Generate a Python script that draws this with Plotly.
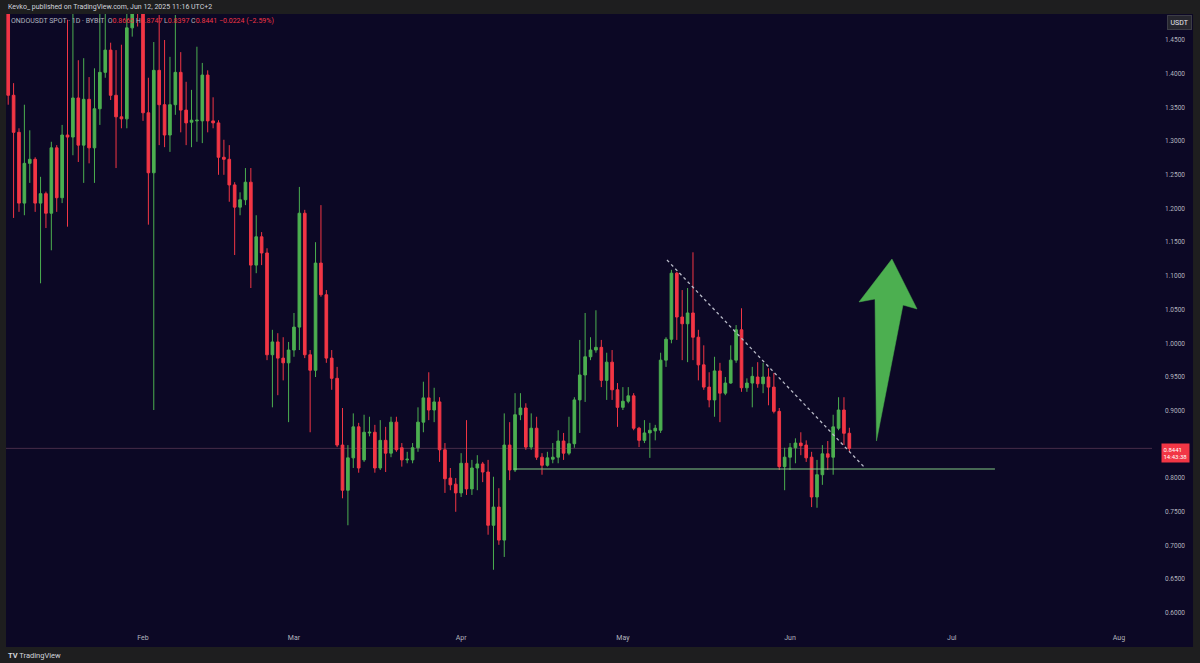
import plotly.graph_objects as go
import pandas as pd

# ---------------- data (ONDOUSDT SPOT, 1D, BYBIT) ----------------
dates = pd.date_range("2025-01-07", "2025-06-12", freq="D")

opens = [
    1.51, 1.368, 1.313, 1.208, 1.267, 1.273, 1.208, 1.222, 1.193, 1.290,
    1.216, 1.309, 1.306, 1.364, 1.294, 1.362, 1.290, 1.348, 1.402, 1.435,
    1.368, 1.336, 1.333, 1.468, 1.52, 1.49, 1.342, 1.253, 1.405, 1.354,
    1.309, 1.354, 1.402, 1.346, 1.328, 1.330, 1.330, 1.398, 1.330, 1.327,
    1.276, 1.273, 1.235, 1.202, 1.213, 1.239, 1.116, 1.158, 1.134, 0.983,
    1.002, 0.978, 0.971, 0.990, 1.024, 1.193, 0.983, 0.960, 1.119, 1.072,
    0.978, 0.948, 0.849, 0.782, 0.830, 0.876, 0.827, 0.867, 0.868, 0.815,
    0.856, 0.837, 0.883, 0.845, 0.827, 0.827, 0.845, 0.883, 0.919, 0.901,
    0.913, 0.842, 0.800, 0.791, 0.778, 0.822, 0.784, 0.815, 0.821, 0.809,
    0.730, 0.757, 0.708, 0.849, 0.812, 0.894, 0.904, 0.846, 0.874, 0.831,
    0.819, 0.828, 0.831, 0.855, 0.837, 0.851, 0.916, 0.953, 0.980, 0.990,
    0.994, 0.945, 0.972, 0.931, 0.905, 0.914, 0.922, 0.874, 0.856, 0.867,
    0.870, 0.871, 0.975, 1.006, 1.104, 1.039, 1.029, 1.045, 1.009, 0.968,
    0.935, 0.916, 0.959, 0.926, 0.941, 0.975, 1.020, 0.934, 0.941, 0.950,
    0.940, 0.950, 0.935, 0.899, 0.817, 0.831, 0.845, 0.852, 0.849, 0.831,
    0.772, 0.805, 0.836, 0.831, 0.874, 0.901, 0.8665,
]
highs = [
    1.53, 1.386, 1.319, 1.354, 1.316, 1.276, 1.247, 1.225, 1.299, 1.294,
    1.324, 1.480, 1.500, 1.420, 1.423, 1.395, 1.408, 1.500, 1.500, 1.446,
    1.435, 1.443, 1.490, 1.530, 1.560, 1.500, 1.394, 1.447, 1.487, 1.450,
    1.425, 1.487, 1.432, 1.388, 1.376, 1.440, 1.416, 1.405, 1.365, 1.331,
    1.302, 1.294, 1.239, 1.224, 1.260, 1.260, 1.190, 1.165, 1.141, 1.020,
    1.015, 1.009, 1.002, 1.045, 1.232, 1.198, 0.990, 1.150, 1.205, 1.079,
    0.990, 0.965, 0.904, 0.849, 0.896, 0.882, 0.894, 0.891, 0.879, 0.886,
    0.876, 0.891, 0.891, 0.852, 0.839, 0.852, 0.905, 0.943, 0.957, 0.934,
    0.920, 0.852, 0.815, 0.800, 0.837, 0.886, 0.827, 0.834, 0.824, 0.827,
    0.802, 0.785, 0.896, 0.883, 0.926, 0.926, 0.911, 0.896, 0.891, 0.837,
    0.839, 0.852, 0.871, 0.867, 0.891, 0.920, 1.005, 1.045, 1.009, 1.049,
    1.005, 0.986, 0.990, 0.941, 0.935, 0.935, 0.926, 0.876, 0.886, 0.882,
    0.879, 0.986, 1.009, 1.109, 1.106, 1.079, 1.082, 1.135, 1.020, 0.997,
    0.957, 0.980, 0.971, 0.950, 0.997, 1.027, 1.052, 0.948, 0.965, 0.972,
    0.971, 0.963, 0.956, 0.904, 0.845, 0.852, 0.859, 0.868, 0.856, 0.839,
    0.827, 0.849, 0.855, 0.894, 0.920, 0.920, 0.8747,
]
lows = [
    1.354, 1.186, 1.195, 1.190, 1.238, 1.195, 1.089, 1.171, 1.138, 1.195,
    1.208, 1.173, 1.279, 1.269, 1.238, 1.267, 1.238, 1.324, 1.394, 1.361,
    1.260, 1.319, 1.319, 1.455, 1.470, 1.330, 1.176, 0.901, 1.294, 1.291,
    1.284, 1.339, 1.313, 1.294, 1.291, 1.299, 1.297, 1.313, 1.319, 1.250,
    1.250, 1.210, 1.131, 1.190, 1.205, 1.082, 1.104, 1.116, 0.975, 0.905,
    0.923, 0.945, 0.883, 0.980, 0.990, 0.978, 0.868, 0.950, 1.069, 0.971,
    0.931, 0.846, 0.770, 0.730, 0.815, 0.808, 0.824, 0.862, 0.808, 0.812,
    0.809, 0.831, 0.839, 0.817, 0.822, 0.822, 0.839, 0.868, 0.886, 0.883,
    0.824, 0.778, 0.782, 0.750, 0.772, 0.775, 0.775, 0.782, 0.794, 0.716,
    0.664, 0.701, 0.683, 0.797, 0.809, 0.886, 0.842, 0.842, 0.827, 0.805,
    0.817, 0.822, 0.822, 0.827, 0.834, 0.845, 0.867, 0.913, 0.975, 0.986,
    0.935, 0.916, 0.916, 0.876, 0.901, 0.911, 0.871, 0.846, 0.852, 0.830,
    0.856, 0.867, 0.965, 1.000, 1.005, 0.975, 0.972, 0.975, 0.945, 0.931,
    0.905, 0.891, 0.883, 0.923, 0.940, 0.971, 0.928, 0.928, 0.905, 0.934,
    0.926, 0.908, 0.896, 0.812, 0.782, 0.812, 0.822, 0.834, 0.824, 0.757,
    0.756, 0.790, 0.812, 0.805, 0.871, 0.849, 0.8397,
]
closes = [
    1.368, 1.313, 1.208, 1.267, 1.273, 1.208, 1.222, 1.193, 1.290, 1.216,
    1.309, 1.306, 1.364, 1.294, 1.362, 1.290, 1.348, 1.402, 1.435, 1.368,
    1.336, 1.333, 1.468, 1.500, 1.490, 1.342, 1.253, 1.405, 1.354, 1.309,
    1.354, 1.402, 1.346, 1.327, 1.331, 1.331, 1.398, 1.330, 1.327, 1.276,
    1.273, 1.235, 1.202, 1.213, 1.239, 1.116, 1.158, 1.134, 0.983, 1.002,
    0.978, 0.971, 0.990, 1.024, 1.193, 0.983, 0.960, 1.119, 1.072, 0.978,
    0.948, 0.849, 0.782, 0.830, 0.876, 0.815, 0.868, 0.868, 0.815, 0.856,
    0.837, 0.883, 0.842, 0.827, 0.828, 0.845, 0.883, 0.919, 0.901, 0.913,
    0.842, 0.799, 0.790, 0.778, 0.822, 0.784, 0.815, 0.821, 0.809, 0.730,
    0.757, 0.708, 0.849, 0.812, 0.894, 0.904, 0.846, 0.874, 0.831, 0.819,
    0.830, 0.831, 0.855, 0.837, 0.851, 0.916, 0.953, 0.980, 0.990, 0.994,
    0.945, 0.972, 0.931, 0.905, 0.914, 0.922, 0.874, 0.856, 0.867, 0.871,
    0.874, 0.975, 1.006, 1.104, 1.039, 1.029, 1.045, 1.009, 0.968, 0.935,
    0.916, 0.959, 0.926, 0.941, 0.975, 1.020, 0.934, 0.941, 0.951, 0.940,
    0.950, 0.935, 0.899, 0.817, 0.831, 0.845, 0.852, 0.848, 0.830, 0.772,
    0.805, 0.836, 0.831, 0.876, 0.901, 0.8665, 0.8441,
]

# axis ticks (0.8500 sits behind the last-price badge in the reference)
month_ticks = ["2025-02-01", "2025-03-01", "2025-04-01", "2025-05-01",
               "2025-06-01", "2025-07-01", "2025-08-01"]
month_labels = ["Feb", "Mar", "Apr", "May", "Jun", "Jul", "Aug"]
price_ticks = [0.60, 0.65, 0.70, 0.75, 0.80, 0.90, 0.95, 1.00,
               1.05, 1.10, 1.15, 1.20, 1.25, 1.30, 1.35, 1.40, 1.45]
price_labels = [f"{v:.4f}" for v in price_ticks]

# drawings
support_x = ["2025-04-10 18:00", "2025-07-09 00:00"]
support_y = [0.8135, 0.8135]
trend_x = ["2025-05-09 04:20", "2025-06-14 21:36"]
trend_y = [1.1236, 0.8150]
arrow_x = ["2025-06-19 21:36", "2025-06-24 13:12", "2025-06-21 22:48",
           "2025-06-17 00:45", "2025-06-16 18:14", "2025-06-13 19:00",
           "2025-06-19 21:36"]
arrow_y = [1.125, 1.0509, 1.0568, 0.8550, 1.0657, 1.0613, 1.125]

last_close = closes[-1]

# ---------------- styling ----------------
GREEN = "#4CAF50"
RED = "#F23645"
NAVY = "#0c0825"
FRAME = "#1e1e1f"
TXT = "#b2b5be"
FONT = "Roboto"

fig = go.Figure()

fig.add_trace(go.Candlestick(
    x=dates, open=opens, high=highs, low=lows, close=closes,
    increasing=dict(line=dict(color=GREEN, width=1), fillcolor=GREEN),
    decreasing=dict(line=dict(color=RED, width=1), fillcolor=RED),
    whiskerwidth=0, showlegend=False, hoverinfo="skip",
))

fig.add_trace(go.Scatter(
    x=support_x, y=support_y, mode="lines",
    line=dict(color="#81c784", width=1.2), showlegend=False, hoverinfo="skip",
))
fig.add_trace(go.Scatter(
    x=trend_x, y=trend_y, mode="lines",
    line=dict(color="#b9bbc8", width=1.3, dash="dot"), showlegend=False, hoverinfo="skip",
))
fig.add_trace(go.Scatter(
    x=arrow_x, y=arrow_y, mode="lines", fill="toself", fillcolor=GREEN,
    line=dict(color=GREEN, width=0.5), showlegend=False, hoverinfo="skip",
))

# navy chart canvas incl. axis areas
shapes = [
    dict(type="rect", xref="paper", yref="paper", x0=0, x1=1.0358, y0=-0.0343, y1=1.0,
         fillcolor=NAVY, line=dict(width=0), layer="below"),
    dict(type="line", xref="paper", yref="y", x0=0, x1=1, y0=last_close, y1=last_close,
         line=dict(color="rgba(160,100,125,0.40)", width=1), layer="below"),
]

legend_txt = (
    "ONDOUSDT SPOT · 1D · BYBIT  "
    "O<span style='color:#F23645'>0.8665</span> "
    "H<span style='color:#F23645'>0.8747</span> "
    "L<span style='color:#F23645'>0.8397</span> "
    "C<span style='color:#F23645'>0.8441</span> "
    "<span style='color:#F23645'>−0.0224 (−2.59%)</span>"
)

annotations = [
    dict(xref="paper", yref="paper", x=0.0, y=1.0114, xanchor="left", yanchor="middle",
         text="Kevko_ published on TradingView.com, Jun 12, 2025 11:16 UTC+2",
         showarrow=False, font=dict(family=FONT, size=7, color="#d1d4dc")),
    dict(xref="paper", yref="paper", x=0.0026, y=0.9886, xanchor="left", yanchor="middle",
         text=legend_txt, showarrow=False, font=dict(family=FONT, size=7, color="#b2b5be")),
    dict(xref="paper", yref="paper", x=0.0, y=-0.049, xanchor="left", yanchor="middle",
         text="<b>TV</b> TradingView", showarrow=False,
         font=dict(family=FONT, size=7.5, color="#d1d4dc")),
    dict(xref="paper", yref="paper", x=1.0236, y=0.9861, xanchor="center", yanchor="middle",
         text="USDT", showarrow=False, bgcolor="#26262e", bordercolor="#3c3c46",
         borderwidth=1, borderpad=2.5, font=dict(family=FONT, size=7, color="#e6e6ee")),
    dict(xref="paper", yref="y", x=1.0209, y=last_close, xanchor="center", yanchor="middle",
         yshift=-5, text="0.8441<br>14:43:38", showarrow=False, bgcolor=RED,
         borderpad=1.5, align="left", font=dict(family=FONT, size=6, color="#ffffff")),
]

fig.update_layout(
    width=1200, height=663,
    margin=dict(l=6, r=48, t=14, b=37),
    paper_bgcolor=FRAME, plot_bgcolor=NAVY,
    shapes=shapes, annotations=annotations,
    showlegend=False,
    font=dict(family=FONT, color=TXT),
    xaxis=dict(
        type="date", range=["2025-01-06 14:12", "2025-08-07 03:07"],
        rangeslider=dict(visible=False), showgrid=False, zeroline=False, showline=False,
        tickmode="array", tickvals=month_ticks, ticktext=month_labels, ticks="",
        tickfont=dict(family=FONT, size=7, color=TXT), ticklabelstandoff=6,
        fixedrange=True,
    ),
    yaxis=dict(
        side="right", range=[0.58055, 1.48858], showgrid=False, zeroline=False,
        showline=False, tickmode="array", tickvals=price_ticks, ticktext=price_labels,
        ticks="", tickfont=dict(family=FONT, size=6.5, color=TXT), ticklabelstandoff=12,
        fixedrange=True,
    ),
)

fig.write_html("out.html", config={"displayModeBar": False},
               post_script="document.body.style.margin='0';document.body.style.overflow='hidden';")
